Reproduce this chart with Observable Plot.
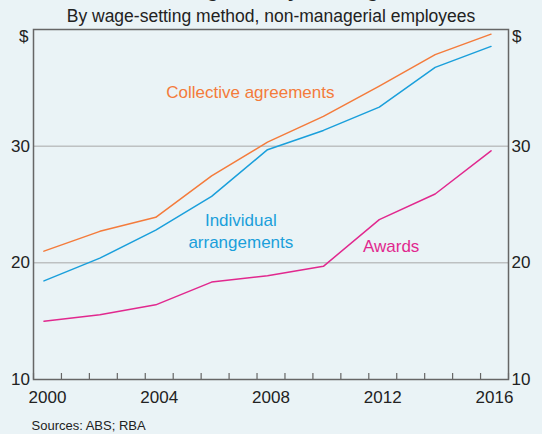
<!DOCTYPE html>
<html><head><meta charset="utf-8">
<script src="https://cdn.jsdelivr.net/npm/d3@7"></script>
<script src="https://cdn.jsdelivr.net/npm/@observablehq/plot@0.6"></script>
<style>
html,body{margin:0;padding:0;background:#EAF3F6;overflow:hidden;}
</style></head><body><div id="chart"></div>
<script>
const title = "Average Hourly Earnings";
const subtitle = "By wage-setting method, non-managerial employees";
const source = "Sources: ABS; RBA";
const years = [2000, 2002, 2004, 2006, 2008, 2010, 2012, 2014, 2016];
const surveyMonth = 5; // May survey
const collective = [21.0, 22.7, 23.9, 27.45, 30.35, 32.55, 35.15, 37.85, 39.6];
const individual = [18.45, 20.4, 22.8, 25.7, 29.7, 31.35, 33.35, 36.75, 38.55];
const awards = [15.0, 15.55, 16.4, 18.35, 18.9, 19.7, 23.7, 25.9, 29.6];
const seriesNames = ["Collective agreements", "Individual arrangements", "Awards"];
const seriesText = ["Collective agreements", "Individual\narrangements", "Awards"];
const seriesColors = ["#F47B3B", "#1A9FDB", "#E1288E"];
const labelX = [2007.76, 2007.42, 2012.8];
const labelY = [34.17, 21.23, 20.97];
const xTickLabels = [2000, 2004, 2008, 2012, 2016];
const yTickLabels = [10, 20, 30];
const yGrid = [20, 30];
const unitLabel = "$";

const seriesValues = [collective, individual, awards];
const rows = [];
seriesNames.forEach((s, i) => years.forEach((y, j) => rows.push({series: s, x: y + (surveyMonth - 0.5) / 12, v: seriesValues[i][j]})));
const labels = seriesNames.map((s, i) => ({series: s, text: seriesText[i], x: labelX[i], y: labelY[i]}));
const yearTicks = d3.range(2000, 2018);
const font = "'Liberation Sans', Arial, Helvetica, sans-serif";
const txt = "#222";

const chart = Plot.plot({
  width: 542, height: 434,
  marginTop: 29, marginBottom: 55, marginLeft: 33, marginRight: 34,
  x: {type: "linear", domain: [2000, 2017], axis: null},
  y: {domain: [10, 40], axis: null},
  color: {domain: seriesNames, range: seriesColors},
  style: {background: "#EAF3F6", fontFamily: font, overflow: "visible"},
  marks: [
    Plot.gridY(yGrid, {stroke: "#A8A8A8", strokeOpacity: 1, strokeWidth: 1}),
    Plot.line(rows, {x: "x", y: "v", z: "series", stroke: "series", strokeWidth: 1.5}),
    Plot.frame({stroke: "#666", strokeWidth: 1.5}),
    Plot.tickX(yearTicks, {x: d => d, insetTop: 344, stroke: "#666", strokeWidth: 1.2}),
    Plot.text(xTickLabels, {x: d => d + 0.5, text: d => String(d), frameAnchor: "bottom", lineAnchor: "top", dy: 11, fontSize: 17, fill: txt}),
    Plot.text(yTickLabels, {y: d => d, text: d => String(d), frameAnchor: "left", textAnchor: "end", lineAnchor: "middle", dx: -3.5, fontSize: 17, fill: txt}),
    Plot.text(yTickLabels, {y: d => d, text: d => String(d), frameAnchor: "right", textAnchor: "start", lineAnchor: "middle", dx: 3, fontSize: 17, fill: txt}),
    Plot.text([unitLabel], {frameAnchor: "top-left", textAnchor: "end", lineAnchor: "top", dx: -5, dy: 0, fontSize: 17, fill: txt}),
    Plot.text([unitLabel], {frameAnchor: "top-right", textAnchor: "start", lineAnchor: "top", dx: 3.5, dy: 0, fontSize: 17, fill: txt}),
    Plot.text(labels, {x: "x", y: "y", text: "text", fill: "series", lineAnchor: "bottom", textAnchor: "middle", fontSize: 17, lineHeight: 1.3}),
    Plot.text([subtitle], {frameAnchor: "top", lineAnchor: "bottom", dy: -8, fontSize: 17.5, fill: txt}),
    Plot.text([title], {frameAnchor: "top", lineAnchor: "bottom", dy: -33, fontSize: 20, fontWeight: "bold", fill: txt}),
    Plot.text([source], {frameAnchor: "bottom-left", textAnchor: "start", lineAnchor: "bottom", dx: -2, dy: 50, fontSize: 13, fill: txt})
  ]
});
document.getElementById("chart").appendChild(chart);
</script></body></html>
